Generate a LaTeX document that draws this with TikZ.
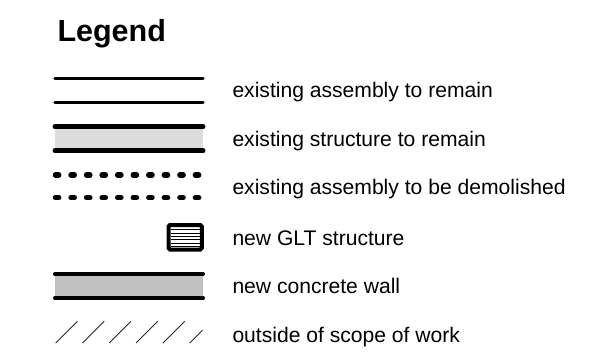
\documentclass[tikz,border=0pt]{standalone}
\usepackage{fontspec}
\setmainfont{Liberation Sans}
\definecolor{lightfill}{HTML}{DCDCDC}
\definecolor{midfill}{HTML}{C0C0C0}
\begin{document}
\begin{tikzpicture}[x=1pt,y=-1pt,
  lbl/.style={anchor=base west,inner sep=0pt,font=\fontsize{21.1}{25}\selectfont},
  title/.style={anchor=base west,inner sep=0pt,font=\fontsize{30.5}{36}\selectfont\bfseries},
  thinline/.style={line width=3.2pt,line cap=round},
  thickline/.style={line width=5pt,line cap=round},
  dashline/.style={line width=5.5pt,line cap=round,dash pattern=on 3.2pt off 12.35pt},
  hatchline/.style={line width=0.9pt,black!85}]
\useasboundingbox (0,0) rectangle (590,360);
\node[title] (title) at (57.3,41.5) {Legend};
% 1 existing assembly to remain
\draw[thinline] (55,78.3) -- (203,78.3);
\draw[thinline] (55,102.3) -- (203,102.3);
\node[lbl] (l1) at (232.3,97.5) {existing assembly to remain};
% 2 existing structure to remain
\fill[lightfill] (55,126.7) rectangle (203,150.7);
\draw[thickline] (55,126.7) -- (203,126.7);
\draw[thickline] (55,150.7) -- (203,150.7);
\node[lbl] (l2) at (232.3,146) {existing structure to remain};
% 3 existing assembly to be demolished
\draw[dashline] (55.5,175) -- (203,175);
\draw[dashline] (55.5,197.7) -- (203,197.7);
\node[lbl] (l3) at (232.3,194.5) {existing assembly to be demolished};
% 4 new GLT structure
\draw[line width=4pt,rounded corners=1.5pt] (168.5,225) rectangle (201.8,249.5);
\foreach \k in {1,...,6}{
  \draw[line width=1pt] (170.5,{226.6+\k*3.3}) -- (199.8,{226.6+\k*3.3});
}
\node[lbl] (l4) at (232.3,245) {new GLT structure};
% 5 new concrete wall
\fill[midfill] (55,274) rectangle (203,298.3);
\draw[line width=4pt,line cap=round] (55,274) -- (203,274);
\draw[line width=4pt,line cap=round] (55,298.3) -- (203,298.3);
\node[lbl] (l5) at (232.3,293.5) {new concrete wall};
% 6 outside of scope of work
\begin{scope}
  \clip (50,318) rectangle (202.5,345);
  \foreach \k in {0,...,5}{
    \draw[hatchline] ({55.7+26.8*\k},343) -- ({77.4+26.8*\k},321.3);
  }
\end{scope}
\node[lbl] (l6) at (232.3,342.5) {outside of scope of work};
\end{tikzpicture}
\end{document}
